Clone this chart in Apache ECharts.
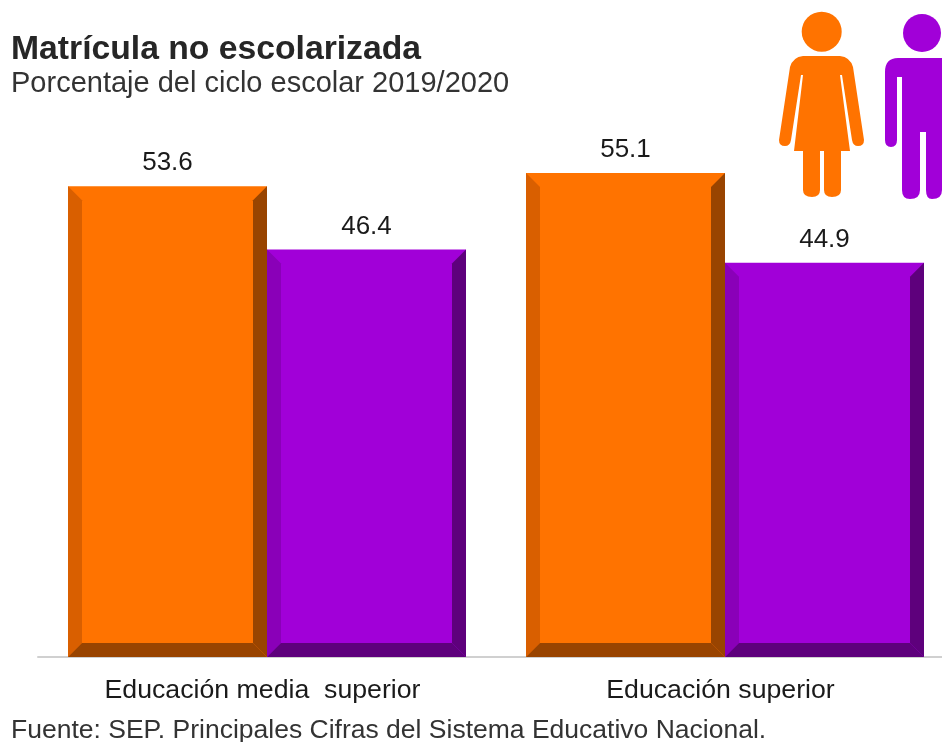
<!DOCTYPE html>
<html>
<head>
<meta charset="utf-8">
<style>html,body{margin:0;padding:0;background:#fff}#chart{width:942px;height:742px}</style>
<script src="https://cdn.jsdelivr.net/npm/echarts@6/dist/echarts.min.js"></script>
</head>
<body>
<div id="chart"></div>
<script>
// Enrolment shares by level and sex
const categories = ['Educación media  superior', 'Educación superior'];
const mujeres = [53.6, 55.1];
const hombres = [46.4, 44.9];
const titleText = 'Matrícula no escolarizada';
const subtitleText = 'Porcentaje del ciclo escolar 2019/2020';
const sourceText = 'Fuente: SEP. Principales Cifras del Sistema Educativo Nacional.';

const FONT = '"Liberation Sans", Arial, sans-serif';
const BEVEL = 14;

// Palette of a bar: face, left, right and bottom bevels
const ORANGE = {face: '#ff7300', left: '#d95f00', right: '#994400', bottom: '#994400'};
const PURPLE = {face: '#a100d8', left: '#8a00b8', right: '#5e007c', bottom: '#5e007c'};

// Draws one bevelled bar; side is -1 for the left bar of a pair, 0 for the right one
function bevelBar(side, pal) {
  return function (params, api) {
    const idx = api.value(0);
    const val = api.value(1);
    const base = api.coord([idx, 0]);
    const top = api.coord([idx, val]);
    const band = api.size([1, 0])[0];
    const w = band * 199 / 458;
    const x0 = base[0] + side * w;
    const x1 = x0 + w;
    const y0 = top[1];
    const y1 = base[1];
    const b = BEVEL;
    const poly = (pts, fill) => ({type: 'polygon', shape: {points: pts}, style: {fill: fill}});
    return {
      type: 'group',
      children: [
        poly([[x0, y0], [x1, y0], [x1, y1], [x0, y1]], pal.face),
        poly([[x0, y0], [x0 + b, y0 + b], [x0 + b, y1 - b], [x0, y1]], pal.left),
        poly([[x1, y0], [x1 - b, y0 + b], [x1 - b, y1 - b], [x1, y1]], pal.right),
        poly([[x0, y1], [x0 + b, y1 - b], [x1 - b, y1 - b], [x1, y1]], pal.bottom),
        {
          type: 'text',
          style: {
            x: (x0 + x1) / 2, y: y0 - 10,
            text: val.toFixed(1),
            font: '26px ' + FONT,
            fill: '#1a1a1a',
            align: 'center', verticalAlign: 'bottom'
          }
        }
      ]
    };
  };
}

// Pictograms above the bars
const womanPath = 'M803,56 L840,56 Q850,57 853,67 L864,140 Q864,146 858,146 Q853,146 852,140 L842,75 L840,75 L850,151 L841,151 L841,190 Q841,197 832,197 Q824,197 824,190 L824,151 L820,151 L820,190 Q820,197 812,197 Q803,197 803,190 L803,151 L794,151 L803,75 L801,75 L791,140 Q790,146 785,146 Q779,146 779,140 L790,67 Q793,57 803,56 Z';
const manPath = 'M898,58 L946,58 Q960,58 960,72 L960,140 Q960,147 954,147 Q947,147 947,140 L947,77 L942,77 L942,190 Q942,199 932,199 Q926,199 926,190 L926,132 L920,132 L920,190 Q920,199 910,199 Q902,199 902,190 L902,77 L897,77 L897,140 Q897,147 891,147 Q885,147 885,140 L885,72 Q885,58 898,58 Z';

function drawPictograms() {
  return {
    type: 'group',
    children: [
      {type: 'path', shape: {pathData: womanPath, x: 779, y: 56, width: 85, height: 141, layout: 'cover'}, style: {fill: ORANGE.face}},
      {type: 'path', shape: {pathData: manPath, x: 885, y: 58, width: 75, height: 141, layout: 'cover'}, style: {fill: PURPLE.face}},
      {type: 'circle', shape: {cx: 821.7, cy: 31.7, r: 20}, style: {fill: ORANGE.face}},
      {type: 'circle', shape: {cx: 922, cy: 33, r: 19}, style: {fill: PURPLE.face}}
    ]
  };
}

const chart = echarts.init(document.getElementById('chart'), null, {renderer: 'canvas'});
chart.setOption({
  animation: false,
  backgroundColor: '#ffffff',
  title: [
    {text: titleText, left: 11, top: 33, padding: 0, textStyle: {fontFamily: FONT, fontSize: 33.7, fontWeight: 'bold', color: '#262626'}},
    {text: subtitleText, left: 11, top: 69, padding: 0, textStyle: {fontFamily: FONT, fontSize: 29, fontWeight: 'normal', color: '#333333'}},
    {text: sourceText, left: 11, top: 717, padding: 0, textStyle: {fontFamily: FONT, fontSize: 26.5, fontWeight: 'normal', color: '#333333'}}
  ],
  // The grid runs past the right edge of the canvas, so outer bounds stay off
  grid: {left: 38, width: 916, top: 130, height: 527, outerBoundsMode: 'none'},
  xAxis: {
    type: 'category',
    data: categories,
    axisTick: {show: false},
    axisLine: {lineStyle: {color: '#d0d0d0', width: 2}},
    axisLabel: {interval: 0, margin: 20, padding: [0, 9, 0, 0], fontFamily: FONT, fontSize: 26.7, color: '#1a1a1a'}
  },
  yAxis: {type: 'value', min: 0, max: 60, show: false},
  series: [
    {
      name: 'Mujeres', type: 'custom', clip: false,
      renderItem: bevelBar(-1, ORANGE),
      encode: {x: 0, y: 1},
      data: mujeres.map((v, i) => [i, v])
    },
    {
      name: 'Hombres', type: 'custom', clip: false,
      renderItem: bevelBar(0, PURPLE),
      encode: {x: 0, y: 1},
      data: hombres.map((v, i) => [i, v])
    },
    {
      name: 'Pictogramas', type: 'custom', coordinateSystem: 'none', silent: true,
      renderItem: drawPictograms,
      data: [[0]]
    }
  ]
});
</script>
</body>
</html>
